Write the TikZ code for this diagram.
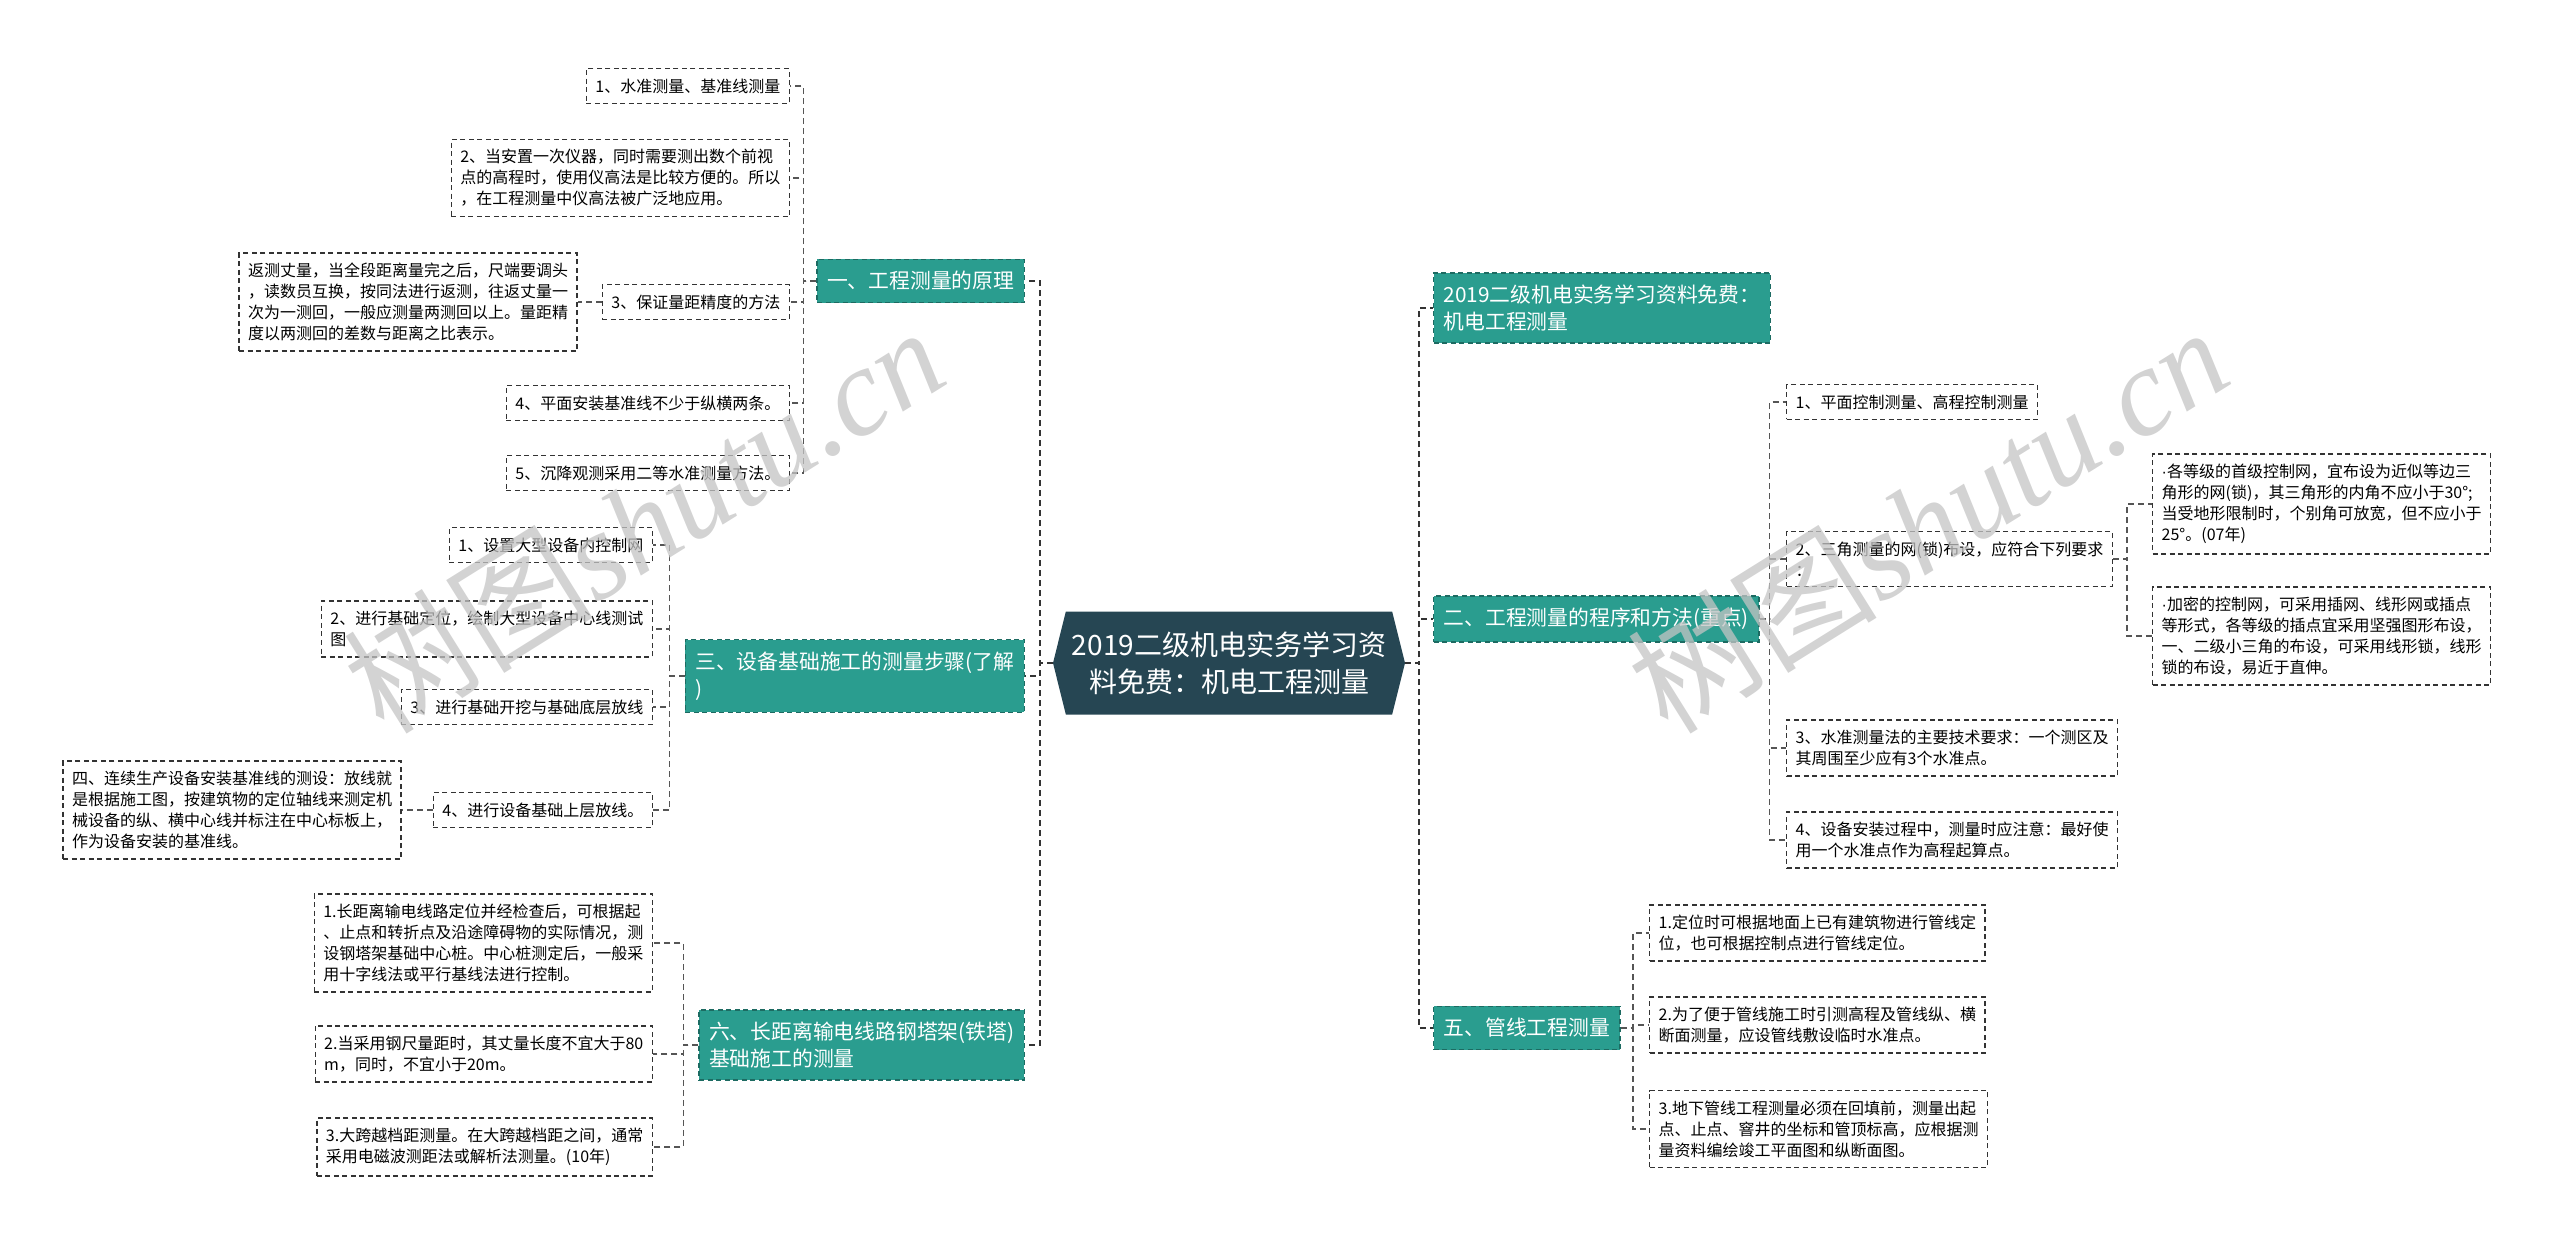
\documentclass[tikz,border=0pt]{standalone}
\usepackage{fontspec}
\setmainfont{Noto Sans CJK SC}
\newfontfamily\markfont{Liberation Serif}
\newfontfamily\dotfont{Liberation Sans}
\usepackage{xcolor}
\usetikzlibrary{positioning,shapes.symbols}
\definecolor{DeepSlate}{HTML}{264653}
\definecolor{TopicTeal}{HTML}{2A9D8F}
\definecolor{TealEdge}{HTML}{1D6B62}
\definecolor{EdgeGray}{HTML}{333333}
\definecolor{LinkGray}{HTML}{555555}
\definecolor{MarkGray}{HTML}{C4C4C4}
\tikzset{
  leafbox/.style={draw=EdgeGray, fill=white, line width=1.4pt, dash pattern=on 5pt off 3.5pt, align=left, inner xsep=9pt, inner ysep=10pt, font=\fontsize{16pt}{21pt}\selectfont},
  topicbox/.style={draw=TealEdge, fill=TopicTeal, text=white, line width=1.4pt, dash pattern=on 5pt off 3.5pt, align=left, inner xsep=10pt, inner ysep=12pt, font=\fontsize{20.8pt}{27pt}\selectfont},
  hubbox/.style={signal, signal to=east and west, signal pointer angle=152, fill=DeepSlate, text=white, align=center, minimum width=352pt, minimum height=103pt, font=\fontsize{28pt}{37pt}\selectfont},
  link/.style={draw=LinkGray, line width=1.4pt, dash pattern=on 6pt off 4pt},
  mainlink/.style={draw=EdgeGray, line width=2pt, dash pattern=on 6pt off 4pt},
  watermark/.style={text=MarkGray, opacity=0.75, rotate=32, font=\fontsize{125pt}{125pt}\selectfont}
}
\begin{document}
\begin{tikzpicture}[
    x=1pt, y=-1pt,
    node distance=24pt
]
\useasboundingbox (0,0) rectangle (2560,1245);

% centre
\node[hubbox] (hub) at (1229,663)
    {2019二级机电实务学习资\\料免费：机电工程测量};

% left topics
\node[topicbox, anchor=east] (t1) at (1025,281)
    {一、工程测量的原理};
\node[topicbox, anchor=east] (t3) at (1025,676)
    {三、设备基础施工的测量步骤(了解\\)};
\node[topicbox, anchor=east] (t6) at (1025,1045)
    {六、长距离输电线路钢塔架(铁塔)\\基础施工的测量};

% right topics
\node[topicbox, anchor=west] (r0) at (1433,308)
    {2019二级机电实务学习资料免费：\\机电工程测量};
\node[topicbox, anchor=west] (r2) at (1433,619)
    {二、工程测量的程序和方法(重点)};
\node[topicbox, anchor=west] (r5) at (1433,1028)
    {五、管线工程测量};

% leaves of t1
\node[leafbox, anchor=east] (t1a) at (790,86)
    {1、水准测量、基准线测量};
\node[leafbox, anchor=east] (t1b) at (790,178)
    {2、当安置一次仪器，同时需要测出数个前视\\
     点的高程时，使用仪高法是比较方便的。所以\\
     ，在工程测量中仪高法被广泛地应用。};
\node[leafbox, anchor=east] (t1c) at (790,302)
    {3、保证量距精度的方法};
\node[leafbox, left=of t1c] (t1c1)
    {返测丈量，当全段距离量完之后，尺端要调头\\
     ，读数员互换，按同法进行返测，往返丈量一\\
     次为一测回，一般应测量两测回以上。量距精\\
     度以两测回的差数与距离之比表示。};
\node[leafbox, anchor=east] (t1d) at (790,403)
    {4、平面安装基准线不少于纵横两条。};
\node[leafbox, anchor=east] (t1e) at (790,473)
    {5、沉降观测采用二等水准测量方法。};

% leaves of t3
\node[leafbox, anchor=east] (t3a) at (653,545)
    {1、设置大型设备内控制网};
\node[leafbox, anchor=east] (t3b) at (653,629)
    {2、进行基础定位，绘制大型设备中心线测试\\图};
\node[leafbox, anchor=east] (t3c) at (653,707)
    {3、进行基础开挖与基础底层放线};
\node[leafbox, anchor=east] (t3d) at (653,810)
    {4、进行设备基础上层放线。};
\node[leafbox, left=31pt of t3d] (t3d1)
    {四、连续生产设备安装基准线的测设：放线就\\
     是根据施工图，按建筑物的定位轴线来测定机\\
     械设备的纵、横中心线并标注在中心标板上，\\
     作为设备安装的基准线。};

% leaves of t6
\node[leafbox, anchor=east] (t6a) at (653,943)
    {1.长距离输电线路定位并经检查后，可根据起\\
     、止点和转折点及沿途障碍物的实际情况，测\\
     设钢塔架基础中心桩。中心桩测定后，一般采\\
     用十字线法或平行基线法进行控制。};
\node[leafbox, anchor=east] (t6b) at (653,1054)
    {2.当采用钢尺量距时，其丈量长度不宜大于80\\m，同时，不宜小于20m。};
\node[leafbox, anchor=east] (t6c) at (653,1147)
    {3.大跨越档距测量。在大跨越档距之间，通常\\采用电磁波测距法或解析法测量。(10年)};

% leaves of r2
\node[leafbox, anchor=west] (r2a) at (1786,402)
    {1、平面控制测量、高程控制测量};
\node[leafbox, anchor=west] (r2b) at (1786,559)
    {2、三角测量的网(锁)布设，应符合下列要求\\：};
\node[leafbox, anchor=west] (r2b1) at (2152,504)
    {{\dotfont ·}各等级的首级控制网，宜布设为近似等边三\\
     角形的网(锁)，其三角形的内角不应小于30°;\\
     当受地形限制时，个别角可放宽，但不应小于\\
     25°。(07年)};
\node[leafbox, anchor=west] (r2b2) at (2152,636)
    {{\dotfont ·}加密的控制网，可采用插网、线形网或插点\\
     等形式，各等级的插点宜采用坚强图形布设，\\
     一、二级小三角的布设，可采用线形锁，线形\\
     锁的布设，易近于直伸。};
\node[leafbox, anchor=west] (r2c) at (1786,748)
    {3、水准测量法的主要技术要求：一个测区及\\其周围至少应有3个水准点。};
\node[leafbox, anchor=west] (r2d) at (1786,840)
    {4、设备安装过程中，测量时应注意：最好使\\用一个水准点作为高程起算点。};

% leaves of r5
\node[leafbox, anchor=west] (r5a) at (1649,933)
    {1.定位时可根据地面上已有建筑物进行管线定\\位，也可根据控制点进行管线定位。};
\node[leafbox, anchor=west] (r5b) at (1649,1025)
    {2.为了便于管线施工时引测高程及管线纵、横\\断面测量，应设管线敷设临时水准点。};
\node[leafbox, anchor=west] (r5c) at (1649,1129)
    {3.地下管线工程测量必须在回填前，测量出起\\
     点、止点、窨井的坐标和管顶标高，应根据测\\
     量资料编绘竣工平面图和纵断面图。};

% centre to topics
\draw[mainlink] (hub.west) -- ++(-13,0) |- (t1.east);
\draw[mainlink] (hub.west) -- ++(-13,0) |- (t3.east);
\draw[mainlink] (hub.west) -- ++(-13,0) |- (t6.east);
\draw[mainlink] (hub.east) -- ++(14,0) |- (r0.west);
\draw[mainlink] (hub.east) -- ++(14,0) |- (r2.west);
\draw[mainlink] (hub.east) -- ++(14,0) |- (r5.west);

% topics to leaves
\draw[link] (t1.west) -- ++(-13,0) |- (t1a.east);
\draw[link] (t1.west) -- ++(-13,0) |- (t1b.east);
\draw[link] (t1.west) -- ++(-13,0) |- (t1c.east);
\draw[link] (t1.west) -- ++(-13,0) |- (t1d.east);
\draw[link] (t1.west) -- ++(-13,0) |- (t1e.east);
\draw[link] (t1c.west) -- ++(-12,0) |- (t1c1.east);
\draw[link] (t3.west) -- ++(-15,0) |- (t3a.east);
\draw[link] (t3.west) -- ++(-15,0) |- (t3b.east);
\draw[link] (t3.west) -- ++(-15,0) |- (t3c.east);
\draw[link] (t3.west) -- ++(-15,0) |- (t3d.east);
\draw[link] (t3d.west) -- ++(-15,0) |- (t3d1.east);
\draw[link] (t6.west) -- ++(-15,0) |- (t6a.east);
\draw[link] (t6.west) -- ++(-15,0) |- (t6b.east);
\draw[link] (t6.west) -- ++(-15,0) |- (t6c.east);
\draw[link] (r2.east) -- ++(10,0) |- (r2a.west);
\draw[link] (r2.east) -- ++(10,0) |- (r2b.west);
\draw[link] (r2.east) -- ++(10,0) |- (r2c.west);
\draw[link] (r2.east) -- ++(10,0) |- (r2d.west);
\draw[link] (r2b.east) -- ++(14,0) |- (r2b1.west);
\draw[link] (r2b.east) -- ++(14,0) |- (r2b2.west);
\draw[link] (r5.east) -- ++(12,0) |- (r5a.west);
\draw[link] (r5.east) -- ++(12,0) |- (r5b.west);
\draw[link] (r5.east) -- ++(12,0) |- (r5c.west);

% watermarks
\node[watermark] (markL) at (643,519) {树图{\markfont\itshape shutu.cn}};
\node[watermark] (markR) at (1927,519) {树图{\markfont\itshape shutu.cn}};
\end{tikzpicture}
\end{document}
